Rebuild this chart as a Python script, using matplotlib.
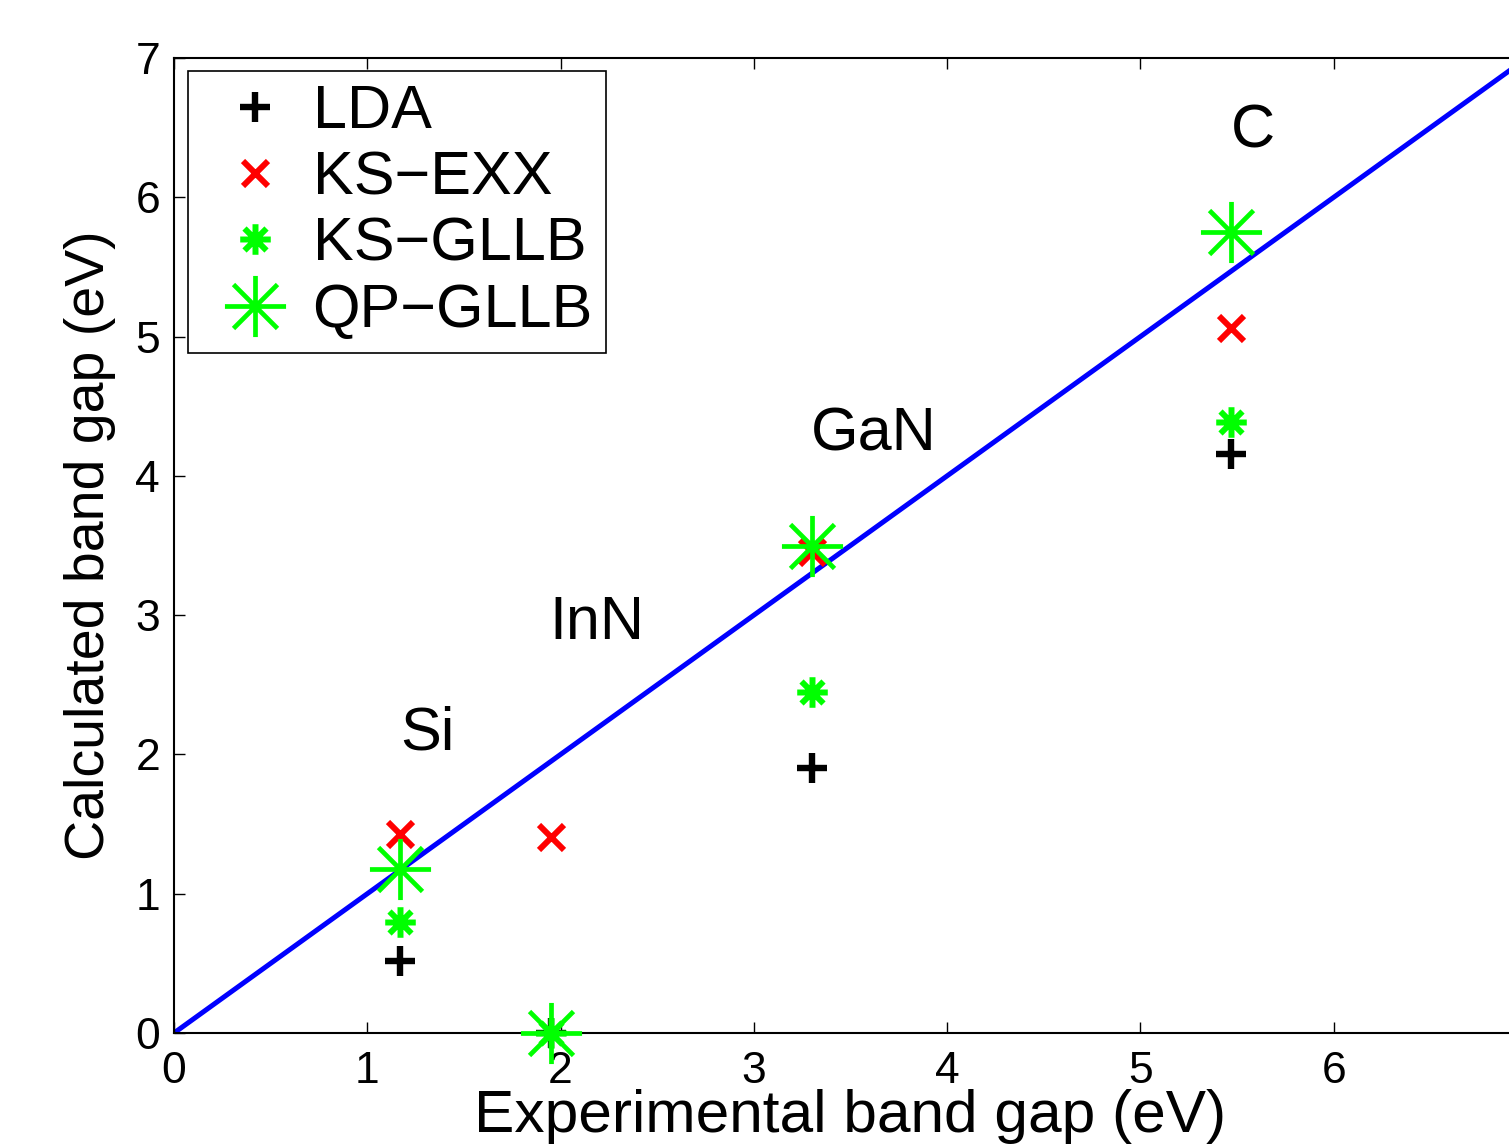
import matplotlib
matplotlib.use("Agg")
import matplotlib.pyplot as plt
from matplotlib.path import Path
from matplotlib.lines import Line2D

plt.rcParams['font.family'] = ['Liberation Sans', 'DejaVu Sans']

materials = ["Si", "InN", "GaN", "C"]
exp_gap = [1.17, 1.95, 3.30, 5.47]
lda = [0.52, 0.0, 1.90, 4.16]
ks_exx = [1.43, 1.41, 3.45, 5.06]
ks_gllb = [0.80, 0.0, 2.45, 4.39]
qp_gllb = [1.18, 0.0, 3.50, 5.75]
label_x = [1.31, 2.19, 3.62, 5.58]
label_y = [2.15, 2.94, 4.29, 6.47]

d = 0.72
ast = Path([(-1, 0), (1, 0), (0, -1), (0, 1), (-d, -d), (d, d), (-d, d), (d, -d)],
           [Path.MOVETO, Path.LINETO] * 4)

fig = plt.figure(figsize=(15.09, 11.44), dpi=100)
ax = fig.add_axes([174/1509, 111/1144, (1527-174)/1509, 975/1144])

styles = [
    dict(marker='+', ms=22, mew=4.6, color='black'),
    dict(marker='x', ms=18, mew=4.3, color=(1, 0, 0)),
    dict(marker=ast, ms=22, mew=4.3, color=(0, 1, 0)),
    dict(marker=ast, ms=44, mew=3.4, color=(0, 1, 0)),
]

ax.plot([0, 7], [0, 7], color=(0, 0, 1), lw=3.6, zorder=1)
for vals, st, z in zip([lda, ks_exx, ks_gllb, qp_gllb], styles, [3, 3, 3, 4]):
    ax.plot(exp_gap, vals, ls='none', clip_on=False, zorder=z, **st)

for m, lx, ly in zip(materials, label_x, label_y):
    ax.text(lx, ly, m, fontsize=44, ha='center', va='center')

ax.set_xlim(0, 7)
ax.set_ylim(0, 7)
ax.set_xticks(range(0, 7))
ax.set_yticks(range(0, 8))
ax.tick_params(axis='x', pad=13)
ax.tick_params(direction='in', length=8, width=1, labelsize=32, top=True, right=True)
ax.tick_params(axis='y', pad=10)
for s in ax.spines.values():
    s.set_linewidth(1.5)
ax.set_xlabel("Experimental band gap (eV)", fontsize=43.5, labelpad=-2)
ax.set_ylabel("Calculated band gap (eV)", fontsize=40, labelpad=14)

handles = [Line2D([], [], ls='none', **st) for st in styles]
leg = ax.legend(handles, ["LDA", "KS\u2212EXX", "KS\u2212GLLB", "QP\u2212GLLB"],
                loc='upper left', bbox_to_anchor=(0.0103, 0.9867), borderaxespad=0,
                fontsize=44, fancybox=False, framealpha=1, edgecolor='black',
                handlelength=1.77, handletextpad=0.05, labelspacing=0.15, borderpad=0.22)
leg.get_frame().set_linewidth(1.2)

fig.savefig("out.png", dpi=100)
